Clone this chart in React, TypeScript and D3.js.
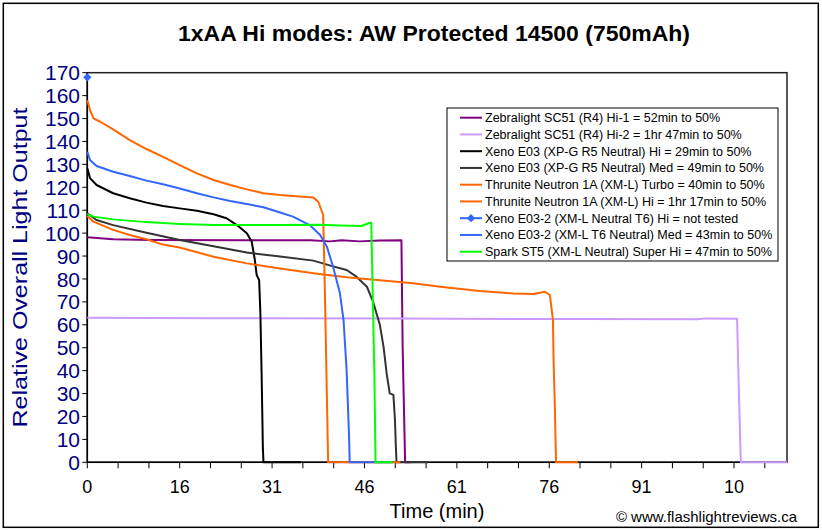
import React from "react";
import * as d3 from "d3";

// ---------- data ----------
const TITLE = "1xAA Hi modes: AW Protected 14500 (750mAh)";
const X_TITLE = "Time (min)";
const Y_TITLE = "Relative Overall Light Output";
const CREDIT = "© www.flashlightreviews.ca";

const X_TICK_LABELS = ["0", "16", "31", "46", "61", "76", "91", "10"];
const Y_TICK_VALUES = [0, 10, 20, 30, 40, 50, 60, 70, 80, 90, 100, 110, 120, 130, 140, 150, 160, 170];

const SERIES_NAMES = [
  "Zebralight SC51 (R4) Hi-1 = 52min to 50%",
  "Zebralight SC51 (R4) Hi-2 = 1hr 47min to 50%",
  "Xeno E03 (XP-G R5 Neutral) Hi = 29min to 50%",
  "Xeno E03 (XP-G R5 Neutral) Med = 49min to 50%",
  "Thrunite Neutron 1A (XM-L) Turbo = 40min to 50%",
  "Thrunite Neutron 1A (XM-L) Hi = 1hr 17min to 50%",
  "Xeno E03-2 (XM-L Neutral T6) Hi = not tested",
  "Xeno E03-2 (XM-L T6 Neutral) Med = 43min to 50%",
  "Spark ST5 (XM-L Neutral) Super Hi = 47min to 50%",
];
const SERIES_COLORS = ["#800080", "#CC99FF", "#000000", "#333333", "#FF6600", "#FF6600", "#3366FF", "#3366FF", "#00FF00"];

const zebraHi1T = [0, 2.1, 4.2, 10.2, 26.4, 36.2, 39.4, 41.3, 44.2, 47.5, 51.0, 51.2, 51.6, 52.5];
const zebraHi1V = [98.2, 97.8, 97.3, 97.0, 96.9, 96.9, 96.4, 96.9, 96.4, 96.8, 96.9, 50, 0, 0];

const zebraHi2T = [0, 20, 50, 80, 99, 100.3, 105.5, 105.7, 106.1, 113.6];
const zebraHi2V = [63.1, 62.9, 62.7, 62.5, 62.4, 62.8, 62.6, 40, 0, 0];

const xenoHiT = [0, 0.44, 1.5, 4.2, 6.9, 9.6, 12.3, 15.0, 17.8, 20.5, 22.6, 24.3, 25.9, 26.7, 27.2, 27.5, 27.9, 28.1, 28.3, 28.5, 28.6, 34.7];
const xenoHiV = [128.3, 124, 121, 117.4, 115.2, 113.3, 111.8, 110.8, 109.8, 108.2, 106.5, 103.5, 99.9, 96.2, 88.3, 81.7, 79.5, 65, 38.8, 6.8, 0, 0];

const xenoMedT = [0, 1.5, 4.2, 9.6, 15.0, 20.5, 25.9, 31.3, 36.7, 39.9, 42.1, 43.7, 44.8, 45.4, 46.4, 47.5, 48.1, 48.6, 49.1, 49.7, 49.95, 50.1, 50.2, 55.3];
const xenoMedV = [108.6, 105.7, 103.5, 100.2, 97.0, 94.3, 91.5, 89.8, 88.0, 85.5, 83.9, 81.0, 78.1, 76.6, 70.0, 60.0, 50.4, 38.8, 30.1, 29.4, 18.5, 6.8, 0, 0];

const turboT = [0, 0.44, 1.0, 2.1, 4.2, 6.9, 9.6, 12.3, 15.0, 17.8, 20.5, 23.2, 25.9, 28.6, 31.3, 33.4, 36.7, 37.5, 38.3, 38.6, 39.1, 50.8];
const turboV = [158, 153.7, 150.1, 148.6, 145.3, 140.6, 136.7, 133.3, 129.7, 126.1, 123.2, 121.0, 119.1, 117.4, 116.6, 116.2, 115.5, 113.7, 107.9, 70.8, 0, 0];

const thruHiT = [0, 1.0, 4.2, 6.9, 9.6, 12.3, 15.0, 20.5, 25.9, 31.3, 36.7, 42.1, 47.5, 52.9, 57.3, 63.7, 69.2, 72.4, 73.5, 74.3, 75.1, 75.6, 75.7, 75.9, 76.1, 79.7];
const thruHiV = [107.5, 105, 101.4, 99.2, 97.3, 95.0, 93.7, 89.7, 86.8, 84.6, 82.5, 80.7, 79.4, 78.1, 76.6, 74.7, 73.7, 73.4, 74.0, 74.4, 73.0, 62.1, 44.6, 25.7, 0, 0];

const xeno2HiT = [0];
const xeno2HiV = [168];

const xeno2MedT = [0, 0.44, 1.5, 4.2, 6.9, 9.6, 12.3, 15.0, 17.8, 20.5, 23.2, 25.9, 28.6, 31.3, 33.4, 36.1, 37.8, 38.9, 39.9, 41.0, 41.6, 42.1, 42.5, 42.6, 49.6];
const xeno2MedV = [135.5, 131.9, 129.3, 126.8, 124.9, 122.9, 121.3, 119.5, 117.4, 115.6, 114.0, 112.7, 111.3, 109.0, 107.2, 103.5, 99.2, 94.1, 85.3, 74.0, 62.1, 40.3, 11.2, 0, 0];

const sparkT = [0, 1.0, 4.2, 9.6, 15.0, 20.5, 31.3, 37.8, 41.0, 44.5, 45.9, 46.1, 46.2, 46.6, 46.8, 49.6];
const sparkV = [108.3, 107.2, 106.0, 104.8, 104.0, 103.5, 103.5, 103.6, 103.3, 103.1, 104.5, 104.5, 92, 40, 0, 0];

const SERIES_T = [zebraHi1T, zebraHi2T, xenoHiT, xenoMedT, turboT, thruHiT, xeno2HiT, xeno2MedT, sparkT];
const SERIES_V = [zebraHi1V, zebraHi2V, xenoHiV, xenoMedV, turboV, thruHiV, xeno2HiV, xeno2MedV, sparkV];
const MARKER_SERIES = 6;

// ---------- layout ----------
const W = 822;
const H = 530;
const PL = 87.3, PR = 787, PT = 72.7, PB = 462.3;
const X_MAX = 113.6;
const X_TICK_STEP = 5;
const X_LABEL_STEP = 15;
const FONT = "'Liberation Sans', Arial, sans-serif";
const NAVY = "#000080";

export default function App() {
  const x = d3.scaleLinear().domain([0, X_MAX]).range([PL, PR]);
  const y = d3.scaleLinear().domain([0, 170]).range([PB, PT]);
  const line = d3.line<[number, number]>().x((d) => x(d[0])).y((d) => y(d[1]));

  const xTicks = d3.range(0, X_MAX, X_TICK_STEP);
  const diamond = d3.symbol().type(d3.symbolSquare).size(34)() as string;

  const legendX = 447, legendY = 108, legendW = 331, legendH = 153;
  const rowY0 = 117.7, rowStep = 16.75;

  return (
    <svg width={W} height={H} style={{ position: "absolute", left: 0, top: 0, display: "block", background: "#fff" }} fontFamily={FONT}>
      <rect x={0} y={0} width={W} height={H} fill="#fff" />
      <rect x={3.3} y={3.3} width={815} height={524} fill="#fff" stroke="#000" strokeWidth={1.5} />

      <text x={434} y={41} textAnchor="middle" fontSize={22} fontWeight="bold" fill="#000" textLength={512} lengthAdjust="spacingAndGlyphs">{TITLE}</text>

      {/* plot frame */}
      <rect x={PL} y={PT} width={PR - PL} height={PB - PT} fill="#fff" stroke="#222" strokeWidth={1.5} />

      {/* y axis */}
      <line x1={PL} x2={PL} y1={PT} y2={PB} stroke="#000" strokeWidth={1.5} />
      {Y_TICK_VALUES.map((v) => (
        <g key={"yt" + v}>
          <line x1={PL - 5} x2={PL} y1={y(v)} y2={y(v)} stroke="#000" strokeWidth={1} />
          <text x={80} y={y(v)} dy="0.36em" textAnchor="end" fontSize={21} fill={NAVY}>{v}</text>
        </g>
      ))}
      <text transform={`translate(27,${(PT + PB) / 2}) rotate(-90)`} textAnchor="middle" fontSize={21} fill={NAVY} textLength={320} lengthAdjust="spacingAndGlyphs">{Y_TITLE}</text>

      {/* x axis */}
      <line x1={PL} x2={PR} y1={PB} y2={PB} stroke="#000" strokeWidth={1.5} />
      {xTicks.map((t) => (
        <line key={"xt" + t} x1={x(t)} x2={x(t)} y1={PB} y2={PB + 6} stroke="#000" strokeWidth={1} />
      ))}
      {X_TICK_LABELS.map((lab, i) => (
        <text key={"xl" + i} x={x(i * X_LABEL_STEP)} y={493} textAnchor="middle" fontSize={18} fill="#000">{lab}</text>
      ))}
      <text x={437} y={518} textAnchor="middle" fontSize={20} fill="#000">{X_TITLE}</text>
      <text x={797} y={522} textAnchor="end" fontSize={15} fill="#000">{CREDIT}</text>

      {/* series */}
      {SERIES_T.map((ts, si) => {
        if (si === MARKER_SERIES) return null;
        const pts = ts.map((t, i) => [t, SERIES_V[si][i]] as [number, number]);
        return (
          <path key={"s" + si} d={line(pts) as string} fill="none" stroke={SERIES_COLORS[si]} strokeWidth={2} strokeLinejoin="round" />
        );
      })}
      {SERIES_T[MARKER_SERIES].map((t, i) => (
        <path key={"m" + i} d={diamond} transform={`translate(${x(t)},${y(SERIES_V[MARKER_SERIES][i])}) rotate(45)`} fill={SERIES_COLORS[MARKER_SERIES]} />
      ))}

      {/* legend */}
      <rect x={legendX} y={legendY} width={legendW} height={legendH} fill="#fff" stroke="#000" strokeWidth={1} />
      {SERIES_NAMES.map((name, i) => {
        const ry = rowY0 + i * rowStep;
        return (
          <g key={"lg" + i}>
            <line x1={460} x2={482} y1={ry} y2={ry} stroke={SERIES_COLORS[i]} strokeWidth={2} />
            {i === MARKER_SERIES && (
              <path d={diamond} transform={`translate(471,${ry}) rotate(45)`} fill={SERIES_COLORS[i]} />
            )}
            <text x={485} y={ry} dy="0.36em" fontSize={12.5} fill="#000">{name}</text>
          </g>
        );
      })}
    </svg>
  );
}
